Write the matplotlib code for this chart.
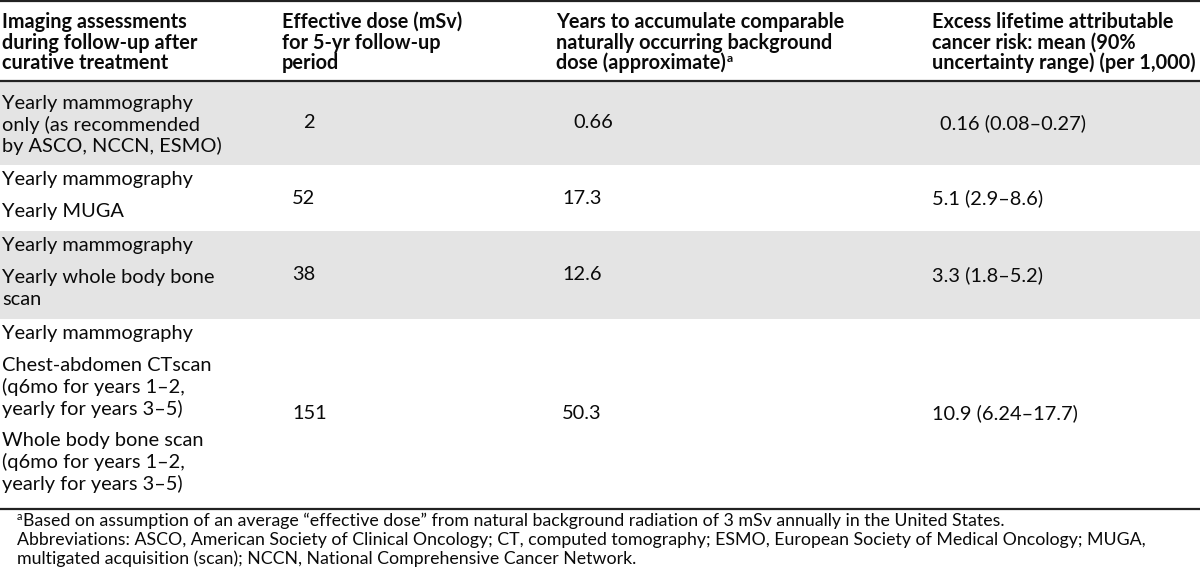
import matplotlib
matplotlib.use("Agg")
import matplotlib.pyplot as plt

# ---------------- data ----------------
header_col1 = ["Imaging assessments", "during follow-up after", "curative treatment"]
header_col2 = ["Effective dose (mSv)", "for 5-yr follow-up", "period"]
header_col3 = ["Years to accumulate comparable", "naturally occurring background", "dose (approximate)"]
header_col4 = ["Excess lifetime attributable", "cancer risk: mean (90%", "uncertainty range) (per 1,000)"]

imaging_items = [
    [["Yearly mammography", "only (as recommended", "by ASCO, NCCN, ESMO)"]],
    [["Yearly mammography"], ["Yearly MUGA"]],
    [["Yearly mammography"], ["Yearly whole body bone", "scan"]],
    [["Yearly mammography"],
     ["Chest-abdomen CTscan", "(q6mo for years 1–2,", "yearly for years 3–5)"],
     ["Whole body bone scan", "(q6mo for years 1–2,", "yearly for years 3–5)"]],
]
effective_dose = ["2", "52", "38", "151"]
years_background = ["0.66", "17.3", "12.6", "50.3"]
excess_risk = ["0.16 (0.08–0.27)", "5.1 (2.9–8.6)", "3.3 (1.8–5.2)", "10.9 (6.24–17.7)"]
row_shaded = [True, False, True, False]

footnote_a = ("Based on assumption of an average “effective dose” from natural background "
              "radiation of 3 mSv annually in the United States.")
footnote_abbrev = [
    "Abbreviations: ASCO, American Society of Clinical Oncology; CT, computed tomography; "
    "ESMO, European Society of Medical Oncology; MUGA,",
    "multigated acquisition (scan); NCCN, National Comprehensive Cancer Network.",
]

# ---------------- layout / style ----------------
FONT = ["Lato", "DejaVu Sans"]
FS = 14.4
FS_HEAD = 14.3
FS_FOOT = 12.8
SHADE = "#e4e4e4"
TEXT_COLOR = "#0a0a0a"
W, H = 1200, 576
col_x = [2, 282, 556, 932]
val_x = [None, 292, 562, 932]
first_row_indent = 11
header_y = [22, 43, 63]
header_rule_y = 81
LS = 21.5
GAP = 32
pad_top = [22, 15, 15, 15]
pad_bot = [19, 19, 19, 25]

fig = plt.figure(figsize=(W / 100, H / 100), dpi=100)
ax = fig.add_axes([0, 0, 1, 1])
ax.set_xlim(0, W)
ax.set_ylim(H, 0)
ax.axis("off")

def txt(x, y, s, bold=False, size=FS, **kw):
    return ax.text(x, y, s, family=FONT, fontsize=size,
                   fontweight="bold" if bold else "normal",
                   ha="left", va="center", color=TEXT_COLOR, **kw)

# header
for cx, lines in zip(col_x, [header_col1, header_col2, header_col3, header_col4]):
    for y, s in zip(header_y, lines):
        t = txt(cx, y, s, bold=True, size=FS_HEAD)
        if s == header_col3[-1]:
            sup_anchor = t

ax.plot([0, W], [1, 1], color="#222222", lw=1.6, solid_capstyle="butt")
ax.plot([0, W], [header_rule_y, header_rule_y], color="#222222", lw=1.6, solid_capstyle="butt")

# body
top = header_rule_y
for i, items in enumerate(imaging_items):
    y = top + pad_top[i]
    line_ys = []
    for k, item in enumerate(items):
        if k > 0:
            y += GAP
        for j, s in enumerate(item):
            if j > 0:
                y += LS
            line_ys.append((y, s))
    bottom = y + pad_bot[i]
    if row_shaded[i]:
        ax.add_patch(plt.Rectangle((0, top), W, bottom - top, color=SHADE, lw=0, zorder=0))
    for ly, s in line_ys:
        txt(col_x[0], ly, s)
    cy = (top + bottom) / 2
    ind = first_row_indent if i == 0 else 0
    txt(val_x[1] + ind, cy, effective_dose[i])
    txt(val_x[2] + ind, cy, years_background[i])
    txt(val_x[3] + (8 if i == 0 else 0), cy, excess_risk[i])
    top = bottom

bottom_rule_y = top
ax.plot([0, W], [bottom_rule_y, bottom_rule_y], color="#222222", lw=1.6, solid_capstyle="butt")

# footnotes
foot_y = [bottom_rule_y + 12, bottom_rule_y + 31, bottom_rule_y + 50]
sup = txt(17, foot_y[0] - 4, "a", size=FS_FOOT * 0.62)
fig.canvas.draw()
r = fig.canvas.get_renderer()
inv = ax.transData.inverted()
bb = sup.get_window_extent(r)
x_end = inv.transform((bb.x1, bb.y0))[0]
txt(x_end + 0.5, foot_y[0], footnote_a, size=FS_FOOT)
txt(17, foot_y[1], footnote_abbrev[0], size=FS_FOOT)
txt(17, foot_y[2], footnote_abbrev[1], size=FS_FOOT)

# superscript a in header col3
bb = sup_anchor.get_window_extent(r)
x_end = inv.transform((bb.x1, bb.y0))[0]
txt(x_end + 1, header_y[2] - 5, "a", bold=True, size=FS_HEAD * 0.62)

fig.savefig("out.png", dpi=100)
